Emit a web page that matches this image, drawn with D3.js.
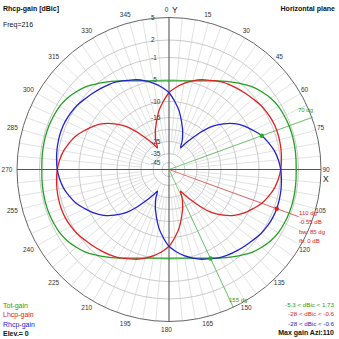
<!DOCTYPE html>
<html><head><meta charset="utf-8">
<script src="https://cdn.jsdelivr.net/npm/d3@7"></script>
<style>body{margin:0;background:#fff}svg{display:block}text{font-family:"Liberation Sans",Arial,sans-serif}</style>
</head><body><svg id="c" width="339" height="339"></svg>
<script>
// ---- data ----
const angles = [0,5,10,15,20,25,28,31,35,40,45,50,55,60,65,70,75,80,85,90,95,100,105,110,115,120,125,130,135,140,145,149,152,155,160,165,170,175,
  180,185,190,195,200,205,208,211,215,220,225,230,235,240,245,250,255,260,265,270,275,280,285,290,295,300,305,310,315,320,325,329,332,335,340,345,350,355];
const rhcp = [-8.0,-10.0,-12.8,-16.3,-20.0,-23.8,-28,-24.6,-21.7,-16.7,-12.2,-9.3,-7.3,-5.7,-4.5,-3.4,-2.6,-1.9,-1.4,-1.05,-0.85,-0.7,-0.6,-0.55,-0.6,-0.75,-1.0,-1.4,-1.75,-2.1,-2.45,-2.8,-3.1,-3.5,-4.0,-4.7,-5.6,-6.7,
  -8.0,-10.0,-12.8,-16.3,-20.0,-23.8,-28,-24.6,-21.7,-16.7,-12.2,-9.3,-7.3,-5.7,-4.5,-3.4,-2.6,-1.9,-1.4,-1.05,-0.85,-0.7,-0.6,-0.55,-0.6,-0.75,-1.0,-1.4,-1.75,-2.1,-2.45,-2.8,-3.1,-3.5,-4.0,-4.7,-5.6,-6.7];
const lhcp = [-8.0,-6.7,-5.6,-4.7,-4.0,-3.5,-3.1,-2.8,-2.45,-2.1,-1.75,-1.4,-1.0,-0.75,-0.6,-0.55,-0.6,-0.7,-0.85,-1.05,-1.4,-1.9,-2.6,-3.4,-4.5,-5.7,-7.3,-9.3,-12.2,-16.7,-21.7,-24.6,-28,-23.8,-20.0,-16.3,-12.8,-10.0,
  -8.0,-6.7,-5.6,-4.7,-4.0,-3.5,-3.1,-2.8,-2.45,-2.1,-1.75,-1.4,-1.0,-0.75,-0.6,-0.55,-0.6,-0.7,-0.85,-1.05,-1.4,-1.9,-2.6,-3.4,-4.5,-5.7,-7.3,-9.3,-12.2,-16.7,-21.7,-24.6,-28,-23.8,-20.0,-16.3,-12.8,-10.0];
const totGain = [-5.3,-5.25,-5.0,-4.7,-4.2,-3.6,-3.1,-2.6,-1.9,-1.0,-0.1,0.55,1.1,1.45,1.6,1.7,1.73,1.7,1.65,1.6,1.65,1.7,1.73,1.7,1.6,1.45,1.1,0.55,-0.1,-1.0,-1.9,-2.6,-3.1,-3.6,-4.2,-4.7,-5.0,-5.25,
  -5.3,-5.25,-5.0,-4.7,-4.2,-3.6,-3.1,-2.6,-1.9,-1.0,-0.1,0.55,1.1,1.45,1.6,1.7,1.73,1.7,1.65,1.6,1.65,1.7,1.73,1.7,1.6,1.45,1.1,0.55,-0.1,-1.0,-1.9,-2.6,-3.1,-3.6,-4.2,-4.7,-5.0,-5.25];
const ringValues = [5,2,-1,-5,-10,-15,-20,-25,-35,-45];
const ringLabels = ["5","2","-1","-5","-10","-15","","-25","-35","-45"];
const angleTicks = [0,15,30,45,60,75,90,105,120,135,150,165,180,195,210,225,240,255,270,285,300,315,330,345];
const beamAngles = [70,155];          // -3 dB points (green markers)
const beamLabels = ["70 dg","155 dg"];
const maxAngle = 110, maxGain = -0.55;
const infoLines = ["110 dg","-0.55 dB","bw: 85 dg","fb: 0 dB"];
const legendLeft = ["Tot-gain","Lhcp-gain","Rhcp-gain","Elev.= 0"];
const legendRight = ["-5.3 < dBic < 1.73","-28 < dBic < -0.6","-28 < dBic < -0.6","Max gain Azi:110"];

// ---- drawing ----
const svg = d3.select("#c");
const cx = 169, cy = 169.5;
const colors = {tot:"#22a022", lhcp:"#dd2222", rhcp:"#2323cc"};
const r = d3.scaleLinear().domain([-45,-35,-25,-15,-10,-5,-1,2,5]).range([7,16,28,52,68,90,112,129.5,152]).clamp(true);
const R = r(5);
const rad = d => d*Math.PI/180;
const px = (a,rr) => cx + rr*Math.sin(rad(a));
const py = (a,rr) => cy - rr*Math.cos(rad(a));
const g = svg.append("g");

// spokes
const spokeAngles = d3.range(0,360,5);
g.selectAll(".sp").data(spokeAngles).join("line")
  .attr("x1",a=>px(a, a%15===0? r(-35): r(-25))).attr("y1",a=>py(a, a%15===0? r(-35): r(-25)))
  .attr("x2",a=>px(a,R)).attr("y2",a=>py(a,R))
  .attr("stroke","#dadada").attr("stroke-width",0.8);
// rings
g.selectAll(".ring").data(ringValues.slice(1)).join("circle")
  .attr("cx",cx).attr("cy",cy).attr("r",d=>r(d))
  .attr("fill","none").attr("stroke","#c4c4c4").attr("stroke-width",0.9);
// outer
g.append("circle").attr("cx",cx).attr("cy",cy).attr("r",R).attr("fill","none").attr("stroke","#666").attr("stroke-width",1);
// axes
g.append("line").attr("x1",cx-R).attr("x2",cx+R).attr("y1",cy).attr("y2",cy).attr("stroke","#555").attr("stroke-width",1);
g.append("line").attr("x1",cx).attr("x2",cx).attr("y1",cy-R).attr("y2",cy+R).attr("stroke","#555").attr("stroke-width",1);

// ring labels
g.selectAll(".rl").data(ringValues).join("text")
  .attr("x",151).attr("y",d=>cy-r(d)).attr("dy","0.35em")
  .attr("font-size",6.5).attr("fill","#333").text((d,i)=>ringLabels[i]);

// angle labels
g.selectAll(".al").data(angleTicks).join("text")
  .attr("x",a=>cx+159.5*Math.sin(rad(a))-2.5).attr("y",a=>cy-160*Math.cos(rad(a)))
  .attr("dy","0.35em").attr("text-anchor","middle")
  .attr("font-size",6.5).attr("fill","#333").text(a=>a);
svg.append("text").attr("x",172).attr("y",13).attr("font-size",8.5).attr("fill","#222").text("Y");
svg.append("text").attr("x",323).attr("y",182).attr("font-size",8.5).attr("fill","#222").text("X");

// marker lines
g.selectAll(".bm").data(beamAngles).join("line")
  .attr("x1",cx).attr("y1",cy).attr("x2",a=>px(a,R+1)).attr("y2",a=>py(a,R+1))
  .attr("stroke","#3cb83c").attr("stroke-width",0.7);
g.append("line").attr("x1",cx).attr("y1",cy).attr("x2",px(maxAngle,138)).attr("y2",py(maxAngle,138))
  .attr("stroke","#e03030").attr("stroke-width",0.7);

// curves
const line = d3.lineRadial().curve(d3.curveCatmullRomClosed.alpha(0.5));
function drawSeries(vals,color){
  const pts = angles.map((a,i)=>[rad(a), r(vals[i])]);
  g.append("path").attr("transform",`translate(${cx},${cy})`).attr("d",line(pts))
    .attr("fill","none").attr("stroke",color).attr("stroke-width",1.3);
}
drawSeries(totGain,colors.tot);
drawSeries(lhcp,colors.lhcp);
drawSeries(rhcp,colors.rhcp);

// marker dots (on Rhcp)
beamAngles.forEach(a=>{
  const i = angles.indexOf(a);
  g.append("circle").attr("cx",px(a,r(rhcp[i]))).attr("cy",py(a,r(rhcp[i]))).attr("r",2.2).attr("fill","#22b022");
});
g.append("circle").attr("cx",px(maxAngle,r(maxGain))).attr("cy",py(maxAngle,r(maxGain))).attr("r",2.2).attr("fill","#e02020");

// marker labels
svg.append("text").attr("x",313).attr("y",112).attr("text-anchor","end").attr("font-size",6).attr("fill","#22a022").text(beamLabels[0]);
svg.append("text").attr("x",229).attr("y",302).attr("font-size",6).attr("fill","#22a022").text(beamLabels[1]);
svg.selectAll(".info").data(infoLines).join("text")
  .attr("x",299).attr("y",(d,i)=>215+i*9.3).attr("font-size",6).attr("fill","#e02020").text(d=>d);

// titles
svg.append("text").attr("x",3).attr("y",11).attr("font-size",7).attr("font-weight","bold").attr("fill","#111").text("Rhcp-gain [dBic]");
svg.append("text").attr("x",3).attr("y",27).attr("font-size",7).attr("fill","#111").text("Freq=216");
svg.append("text").attr("x",335).attr("y",11).attr("text-anchor","end").attr("font-size",7).attr("font-weight","bold").attr("fill","#111").text("Horizontal plane");

const lcol = [colors.tot,colors.lhcp,colors.rhcp,"#111"];
svg.selectAll(".ll").data(legendLeft).join("text")
  .attr("x",3).attr("y",(d,i)=>308+i*9.3).attr("font-size",7)
  .attr("font-weight",(d,i)=>i===3?"bold":"normal").attr("fill",(d,i)=>lcol[i]).text(d=>d);
svg.selectAll(".lr").data(legendRight).join("text")
  .attr("x",334).attr("y",(d,i)=>307+i*9.3).attr("text-anchor","end").attr("font-size",(d,i)=>i===3?7:6.2)
  .attr("font-weight",(d,i)=>i===3?"bold":"normal").attr("fill",(d,i)=>lcol[i]).text(d=>d);
</script></body></html>
